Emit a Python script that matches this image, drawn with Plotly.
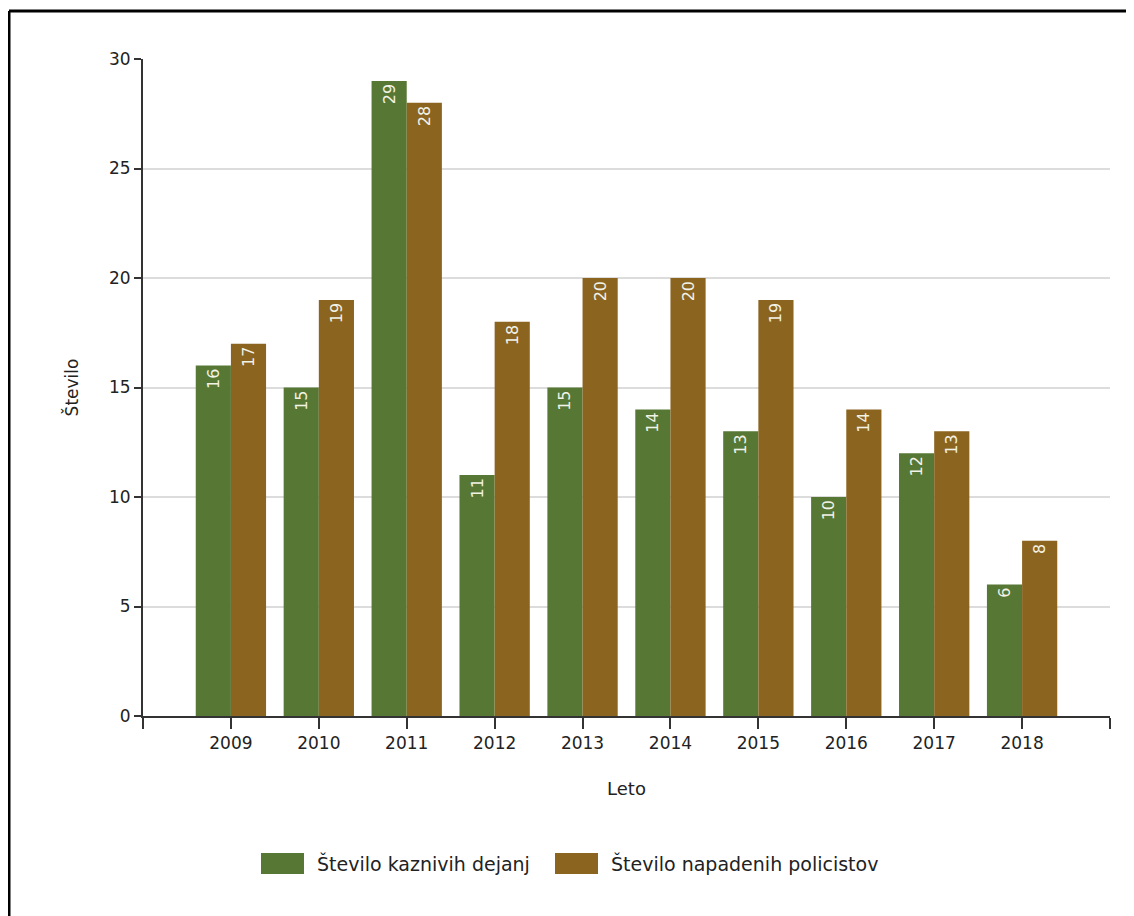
import plotly.graph_objects as go

years = ["2009", "2010", "2011", "2012", "2013", "2014", "2015", "2016", "2017", "2018"]
kazniva_dejanja = [16, 15, 29, 11, 15, 14, 13, 10, 12, 6]
napadeni_policisti = [17, 19, 28, 18, 20, 20, 19, 14, 13, 8]
series_names = ["Število kaznivih dejanj", "Število napadenih policistov"]
y_ticks = [0, 5, 10, 15, 20, 25, 30]

positions = list(range(len(years)))
tick_positions = [-1] + positions + [len(years)]
tick_labels = [""] + years + [""]

FONT = "DejaVu Sans"
GREEN = "#567834"
BROWN = "#8B6520"
TXT = "#222222"
colors = [GREEN, BROWN]

# screen -> paper helpers (page has 8px body margin)
PL, PR, PT, PB = 143, 1110, 59, 716
def px(sx):
    return (sx - PL) / (PR - PL)
def py(sy):
    return (PB - sy) / (PB - PT)

fig = go.Figure()
for name, vals, col in zip(series_names, [kazniva_dejanja, napadeni_policisti], colors):
    fig.add_trace(go.Bar(
        x=positions, y=vals, name=name,
        marker=dict(color=col, line=dict(width=0)),
        text=[str(v) for v in vals],
        textposition="inside", insidetextanchor="end", textangle=-90,
        textfont=dict(family=FONT, size=16, color="#f2f2e6"),
        constraintext="none",
    ))

# custom legend (larger swatches as in the reference)
legend_items = [(261, 304, 315), (555, 598, 609)]
shapes = []
annotations = []
for (sx0, sx1, tx), name, col in zip(legend_items, series_names, colors):
    shapes.append(dict(type="rect", xref="paper", yref="paper",
                       x0=px(sx0), x1=px(sx1), y0=py(874), y1=py(853),
                       fillcolor=col, line=dict(width=0)))
    annotations.append(dict(xref="paper", yref="paper", x=px(tx), y=py(863.5),
                            xanchor="left", yanchor="middle", showarrow=False,
                            text=name, font=dict(family=FONT, size=19, color=TXT)))

# outer frame (left and top edges visible)
shapes += [
    dict(type="line", xref="paper", yref="paper",
         x0=px(9), x1=px(1150), y0=py(11), y1=py(11),
         line=dict(color="black", width=3)),
    dict(type="line", xref="paper", yref="paper",
         x0=px(9), x1=px(9), y0=py(11), y1=py(930),
         line=dict(color="black", width=3)),
]

fig.update_layout(
    width=1134, height=916,
    barmode="group", bargap=0.2, bargroupgap=0,
    plot_bgcolor="white", paper_bgcolor="white",
    margin=dict(l=PL - 8, r=1134 - (PR - 8), t=PT - 8, b=916 - (PB - 8)),
    font=dict(family=FONT, size=17, color=TXT),
    showlegend=False,
    xaxis=dict(
        range=[-1, len(years)], tickmode="array", tickvals=tick_positions, ticktext=tick_labels,
        showline=True, linecolor="#333333", linewidth=2,
        ticks="outside", ticklen=11, tickwidth=2, tickcolor="#333333",
        showgrid=False, zeroline=False,
        tickfont=dict(family=FONT, size=17, color=TXT),
        title=dict(text="Leto", font=dict(family=FONT, size=18, color=TXT), standoff=30),
    ),
    yaxis=dict(
        range=[0, 30], tickvals=y_ticks,
        showline=True, linecolor="#333333", linewidth=2,
        ticks="outside", ticklen=7, tickwidth=2, tickcolor="#333333",
        showgrid=True, gridcolor="#dcdcdc", gridwidth=2, zeroline=False,
        tickfont=dict(family=FONT, size=17, color=TXT),
        title=dict(text="Število", font=dict(family=FONT, size=17, color=TXT), standoff=26),
    ),
    shapes=shapes,
    annotations=annotations,
)

fig.write_html("out.html")
